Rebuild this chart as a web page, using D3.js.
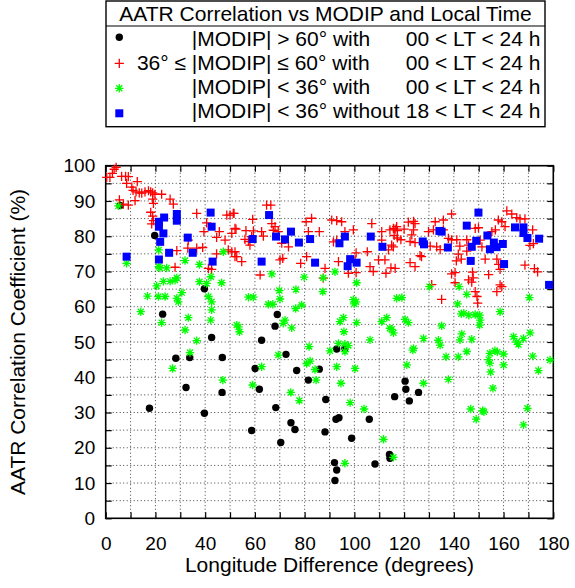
<!DOCTYPE html>
<html>
<head>
<meta charset="utf-8">
<script src="https://cdn.jsdelivr.net/npm/d3@7"></script>
<style>
  body { margin: 0; background: #fff; }
  text { font-family: "Liberation Sans", Arial, Helvetica, sans-serif; fill: #000; }
</style>
</head>
<body>
<svg id="chart" width="575" height="588"></svg>
<script>
// Longitude difference (deg) vs AATR correlation coefficient (%)

// |MODIP| > 60°, all local times
const highModip = [
  [5.8,88.7],[19.7,80.2],[22.9,57.9],[39.7,65.1],[42.6,51.3],[17.6,31.2],[28.2,45.4],[33.8,45.6],
  [32.3,37.1],[39.7,29.8],[46.9,45.6],[46.8,35.7],[69,57.8],[68.1,54.5],[62.7,50.5],[72.5,46.5],
  [60.1,42.5],[76.8,41.9],[85.9,42.3],[81.5,39.2],[61.8,36.6],[88.5,33.7],[68.4,31.4],[74.5,27.1],
  [76.1,25.2],[58.7,24.9],[70.4,21.5],[88.2,24.5],[92.6,28.1],[93.8,28.5],[92.9,48],[96.2,48.2],
  [98.9,22.7],[106,28.1],[116.2,34.5],[92,15.8],[92.9,13.7],[92.2,10.7],[108.3,15.4],[114.1,18.1],
  [114.3,17],[120.4,38.9],[120.7,36.6],[125.8,35.7],[122.1,33.3]
];

// 36° <= |MODIP| <= 60°, all local times
const midModip = [
  [0.4,96.7],[1.7,96.7],[2.7,97.8],[3.4,99],[4.2,99.5],[6.4,97],[8,97],[9.1,96.9],[8.4,95],
  [12.7,95.5],[10.5,93.9],[11,93],[12.2,92.6],[13.5,92.3],[14.5,92.2],[15.8,92.6],[17.2,92.9],
  [18.1,92.6],[18.9,92.3],[19.8,91.9],[22.5,91.9],[25.9,90.5],[27.2,89.1],[18.9,90.5],[19.2,89.3],
  [18.1,86.8],[18.9,85.7],[19.2,84.4],[18.5,83.5],[5.5,90.3],[7.1,89.1],[9.1,88.8],[11.8,90.1],
  [28.6,75.9],[27.9,71.2],[33.2,78.9],[33,76.6],[36.6,76.6],[39,76.8],[39.5,81.3],[40.6,83.8],
  [42.6,70.6],[41.3,70.9],[36.6,86.5],[44.6,79.7],[45.7,81.3],[48,78.9],[48.7,86],[50,86],
  [51.3,86.5],[50.7,80.8],[52,82.2],[49.3,76.1],[50.7,75.6],[52,74.2],[44.6,75],
  [51.6,86.5],[59.1,84.8],[52.4,82],[56.4,81.6],[59.4,81.5],[62.7,81.3],[56,79.1],[57.4,78.5],
  [58,77.5],[58.7,79.9],[63.4,80],[52,75.6],[52.7,74.2],[54.7,72.8],[64.7,88.8],[66.4,88.8],
  [66.8,83.6],[68.1,82.7],[67.4,81.7],[69.4,81.3],[70.8,78],[73.5,77],[71.2,73.7],[70.1,73.3],
  [62.1,69],[80.6,84.1],[82.8,85.1],[81.5,81.3],[85.9,81.3],[80.8,74.2],[78.4,72.3],[88.2,70.9],
  [87.5,68.1],[90.9,84.6],[92.9,84.4],[94.9,84.1],[91.6,78.4],[92.9,78.9],[96.2,81.3],[99.6,81.8],
  [93.6,72.8],[97.6,69.5],[100.7,75.3],[100.3,73.3],[100.7,69.7],[105.2,75.6],[107,83.6],
  [106.3,71.4],[107.6,70],[109.7,73.3],[111,81.3],[111,78.9],[112.3,73.3],[112.7,69.5],
  [114.3,81.8],[115.7,82.2],[117,82.7],[116.4,70.9],[115.7,77],[113.7,76.1],
  [116.4,82],[117.3,81.6],[120,82],[121.7,84],[123.8,84.2],[124.4,83.6],[123.8,81.8],[123.1,80.4],
  [116,80.2],[117.3,79.5],[118.7,79],[115,77.5],[122.4,78.5],[124.4,78.2],[126.4,74.5],[127,74.2],
  [114.7,71],[122.4,72.5],[124.4,71.4],[129.8,81.3],[131.8,81.8],[132.5,84.1],[135.8,84.6],
  [130.5,77.2],[133.1,77],[134.5,76.2],[135.8,81.8],[137.8,79.4],[139.1,79],[139.1,86.3],
  [141.2,79],[142.4,77.2],[141.8,74.9],[143,73.5],[141,73],[139.1,69.3],[140.5,69.7],[140.5,66.8],
  [131.1,66.3],[135.1,62.1],[145.2,79],[145.9,77.5],[145.2,75.8],[145.9,67.6],[147.2,67],
  [147.5,69.8],[147.8,68.2],[148.6,64.3],[149.3,62.9],[149.6,61],[148.6,82.2],[149.9,82.4],
  [150.6,78.9],[151.3,77],[152.6,73.5],[154,69.1],[155.3,81.3],[156.7,81.8],[157.9,84.6],
  [159.3,84.1],[160.6,82.7],[157.3,73.5],[158,72],[158.6,70.6],[158.6,66.2],[157.3,64.3],
  [159.3,65.7],[161.3,87.2],[163.3,86.3],[165.3,85.3],[166.6,84.9],[168.6,84.9],[171.7,81.8],
  [172,77.9],[170.6,77.4],[168.6,71.8],[172.4,70.8],[173.7,69.9]
];

// |MODIP| < 36°, all local times
const lowModipAll = [
  [5.1,88.6],[8.4,72.3],[21.3,76.1],[21.3,71.4],[21.8,71],[24.5,71],[23.2,67.2],[25.9,67.2],
  [27.9,67.5],[28.6,68.2],[20.5,65.9],[16.8,63],[21.2,62.9],[23.9,62.9],[14.1,58.6],[28.6,62.4],
  [29.2,61.4],[30.6,64],[31.9,73.1],[37.7,72],[37.7,67.1],[40.6,66.6],[42.3,68.5],[41.3,62.9],
  [42.6,61.4],[42.6,59.1],[42.2,56.2],[46.6,66.8],[47.3,75.6],[33.2,56.9],[31.9,53.4],[36.6,50.4],
  [22.5,55.5],[53.4,54.3],[53.8,52.9],[26.9,42.5],[33.9,47],[47.1,39.2],
  [66.8,69.3],[79.8,68.4],[87.5,68.2],[92.2,69.9],[100.9,66.8],[57.4,62.7],[59.4,62.7],[69.8,64.6],
  [70.1,62.2],[76.5,64.9],[87.3,64.3],[65.4,60.7],[67.2,60.7],[78.8,60.5],[76.4,59.5],[99.6,62],
  [100.7,61.4],[99.9,60.8],[117,62.4],[52.7,54.8],[72.1,56.2],[71.4,55.3],[74.8,54],[95.6,56.9],
  [94.2,55.8],[100.9,55.5],[95.8,52.9],[106.3,50.6],[111,55.8],[113,56.9],[114.3,53.9],[115.7,52.6],
  [81.8,48.7],[93.6,49.6],[96.2,49.4],[69.4,46.3],[90.2,47.5],[97.6,49],[96.2,47.3],[80.8,43.9],
  [82.2,44.6],[84.2,42.2],[84.6,39.2],[62.7,43],[92.9,43],[100.3,42.5],[94.6,38.3],[59.1,37.8],
  [74.4,35.7],[77.9,33.4],[98.3,32.8],[103.9,31],[111.7,22.4],[96.2,15.6],[115.7,17.3],
  [130.2,65.7],[142.1,65.7],[145.2,63.5],[119.1,62.6],[141.5,60.8],[143,58],[144,58.2],[146,57.6],
  [148.6,57.8],[150.4,57.6],[150.6,56.2],[150.4,54.8],[158.6,58.6],[170.4,62.6],[120.4,56.4],
  [121.7,55.5],[115,53.6],[135.1,54.6],[127.8,51],[133.8,50.5],[134.5,49.1],[143.2,52.3],
  [142.5,50.6],[147.2,50.8],[164,51.5],[165.3,50],[166,49.3],[168,51],[170.7,52.6],[123.8,48.2],
  [123.5,47.7],[121.1,43.5],[127.8,38.3],[136.9,45.8],[137.8,39.4],[141.8,45.8],[145.2,47.3],
  [154,45],[154.5,44],[154.8,41.5],[154.5,46.8],[156.5,47.5],[157.5,47.2],[160,46.6],[160,43.5],
  [155.7,36.9],[171.7,46],[174,41.9],[178.7,44.9],[146.8,31],[149,28.1],[151.6,30.5],[152.1,30.2],
  [169.6,31.2],[168,26.5]
];

// |MODIP| < 36°, excluding 18 < LT < 24 h
const lowModipNoEvening = [
  [8.4,74.2],[21.4,84.1],[21.4,82.7],[21.9,78.4],[23.2,80.8],[23.5,85.3],[21.4,73.4],[25.5,75.3],
  [28.6,86.3],[28.6,84.4],[33,79.6],[35,75.3],[42.2,86.7],[42.6,82.7],[43,72.8],
  [65.7,86],[59.1,79.2],[68.5,79.9],[72.1,79.1],[74.5,81.3],[77.7,78.2],[82.2,79.2],[62.7,72.8],
  [84.2,72.5],[94,78],[96.2,79.9],[98.3,73.5],[97.3,71.5],[100.9,72.5],[106.6,79.9],[111.3,77],
  [127.5,78.5],[128,77.7],[134.2,81.5],[135.1,81.3],[137.6,76.8],[145.2,83],[149.9,86.7],
  [149,78.7],[147.2,77],[146.8,73],[153.5,80.2],[154.5,76.3],[156.1,78.2],[157.2,76.9],
  [159.7,77.8],[164.6,82.5],[168,82.5],[168,80.9],[169.6,79.5],[174.3,79.3],[160.2,72.1],[178.3,66.2]
];

const xTickValues = d3.range(0, 181, 10);
const xTickLabels = [0, 20, 40, 60, 80, 100, 120, 140, 160, 180];
const yTickValues = d3.range(0, 101, 5);
const yTickLabels = [0, 10, 20, 30, 40, 50, 60, 70, 80, 90, 100];

const xTitle = "Longitude Difference (degrees)";
const yTitle = "AATR Correlation Coefficient (%)";
const legendTitle = "AATR Correlation vs MODIP and Local Time";
const legendPrefix = ["", "36° ≤", "", ""];
const legendMiddle = ["|MODIP| > 60° with", "|MODIP| ≤ 60° with", "|MODIP| < 36° with", "|MODIP| < 36° without"];
const legendRight = ["00 < LT < 24 h", "00 < LT < 24 h", "00 < LT < 24 h", "18 < LT < 24 h"];

const svg = d3.select("#chart");
const box = { left: 105.7, right: 553.3, top: 165.7, bottom: 518.3 };

const x = d3.scaleLinear().domain([0, 180]).range([box.left, box.right]);
const y = d3.scaleLinear().domain([0, 100]).range([box.bottom, box.top]);

// dotted grid
const grid = svg.append("g").attr("stroke", "#000").attr("stroke-width", 1)
  .attr("stroke-dasharray", "1,2.5").attr("opacity", 0.75);
grid.selectAll("line.v").data(xTickValues.filter(d => d > 0 && d < 180)).join("line")
  .attr("x1", d => x(d)).attr("x2", d => x(d)).attr("y1", box.top).attr("y2", box.bottom);
grid.selectAll("line.h").data(yTickValues.filter(d => d > 0 && d < 100)).join("line")
  .attr("x1", box.left).attr("x2", box.right).attr("y1", d => y(d)).attr("y2", d => y(d));

// axes with inward ticks on all four sides
const tickLen = 6;
const fmtX = d => xTickLabels.includes(d) ? d : "";
const fmtY = d => yTickLabels.includes(d) ? d : "";

const axB = svg.append("g").attr("transform", `translate(0,${box.bottom})`)
  .call(d3.axisBottom(x).tickValues(xTickValues).tickFormat(fmtX).tickSize(-tickLen).tickPadding(18.2));
const axT = svg.append("g").attr("transform", `translate(0,${box.top})`)
  .call(d3.axisTop(x).tickValues(xTickValues).tickFormat("").tickSize(-tickLen));
const axL = svg.append("g").attr("transform", `translate(${box.left},0)`)
  .call(d3.axisLeft(y).tickValues(yTickValues).tickFormat(fmtY).tickSize(-tickLen).tickPadding(10.5));
const axR = svg.append("g").attr("transform", `translate(${box.right},0)`)
  .call(d3.axisRight(y).tickValues(yTickValues).tickFormat("").tickSize(-tickLen));

[axB, axT, axL, axR].forEach(a => {
  a.select(".domain").remove();
  a.selectAll(".tick line").attr("stroke", "#000").attr("stroke-width", 1.2);
  a.selectAll("text").style("font-family", '"Liberation Sans", Arial, sans-serif')
    .style("font-size", "19px").attr("fill", "#000");
});

svg.append("rect")
  .attr("x", box.left).attr("y", box.top)
  .attr("width", box.right - box.left).attr("height", box.bottom - box.top)
  .attr("fill", "none").attr("stroke", "#000").attr("stroke-width", 1.6);

// axis titles
svg.append("text").attr("x", (box.left + box.right) / 2).attr("y", 572)
  .attr("text-anchor", "middle").style("font-size", "21px").text(xTitle);
svg.append("text").attr("transform", `translate(25,${(box.top + box.bottom) / 2}) rotate(-90)`)
  .attr("text-anchor", "middle").style("font-size", "21px").text(yTitle);

// marker shapes
const crossPath = "M-4.6,0H4.6M0,-4.6V4.6";
const starPath = "M-4.2,0H4.2M0,-4.2V4.2M-3,-3L3,3M-3,3L3,-3";

function drawCircles(g, data) {
  g.selectAll("circle").data(data).join("circle")
    .attr("cx", d => x(d[0])).attr("cy", d => y(d[1])).attr("r", 3.7).attr("fill", "#000");
}
function drawPaths(g, data, path, color) {
  g.selectAll("path").data(data).join("path")
    .attr("d", path).attr("transform", d => `translate(${x(d[0])},${y(d[1])})`)
    .attr("fill", "none").attr("stroke", color).attr("stroke-width", 1.3);
}
function drawSquares(g, data, s) {
  g.selectAll("rect").data(data).join("rect")
    .attr("x", d => x(d[0]) - s / 2).attr("y", d => y(d[1]) - s / 2)
    .attr("width", s).attr("height", s).attr("fill", "#0000ff");
}

drawCircles(svg.append("g"), highModip);
drawPaths(svg.append("g"), midModip, crossPath, "#ff0000");
drawPaths(svg.append("g"), lowModipAll, starPath, "#00ff00");
drawSquares(svg.append("g"), lowModipNoEvening, 8);

// legend
const lg = svg.append("g");
const lgBox = { left: 106, right: 545, top: 1, bottom: 126.7 };
lg.append("rect").attr("x", lgBox.left).attr("y", lgBox.top)
  .attr("width", lgBox.right - lgBox.left).attr("height", lgBox.bottom - lgBox.top)
  .attr("fill", "#fff").attr("stroke", "#000").attr("stroke-width", 1.4);
lg.append("line").attr("x1", lgBox.left).attr("x2", lgBox.right).attr("y1", 26).attr("y2", 26)
  .attr("stroke", "#000").attr("stroke-width", 1.2);
lg.append("text").attr("x", (lgBox.left + lgBox.right) / 2).attr("y", 20.7)
  .attr("text-anchor", "middle").style("font-size", "21px").text(legendTitle);

const rowBase = [45.7, 69.9, 94.1, 118.3];
rowBase.forEach((b, i) => {
  lg.append("text").attr("x", 186).attr("y", b).attr("text-anchor", "end")
    .style("font-size", "21px").text(legendPrefix[i]);
  lg.append("text").attr("x", 191.7).attr("y", b).style("font-size", "21px").text(legendMiddle[i]);
  lg.append("text").attr("x", 540.5).attr("y", b).attr("text-anchor", "end")
    .style("font-size", "21px").text(legendRight[i]);
});
const sx = 119.3;
drawCircles(lg.append("g").attr("transform", `translate(${sx - x(0)},${rowBase[0] - 8.4 - y(0)})`), [[0, 0]]);
drawPaths(lg.append("g").attr("transform", `translate(${sx - x(0)},${rowBase[1] - 6.6 - y(0)})`), [[0, 0]], crossPath, "#ff0000");
drawPaths(lg.append("g").attr("transform", `translate(${sx - x(0)},${rowBase[2] - 5.8 - y(0)})`), [[0, 0]], starPath, "#00ff00");
drawSquares(lg.append("g").attr("transform", `translate(${sx - x(0)},${rowBase[3] - 5 - y(0)})`), [[0, 0]], 8);
</script>
</body>
</html>
